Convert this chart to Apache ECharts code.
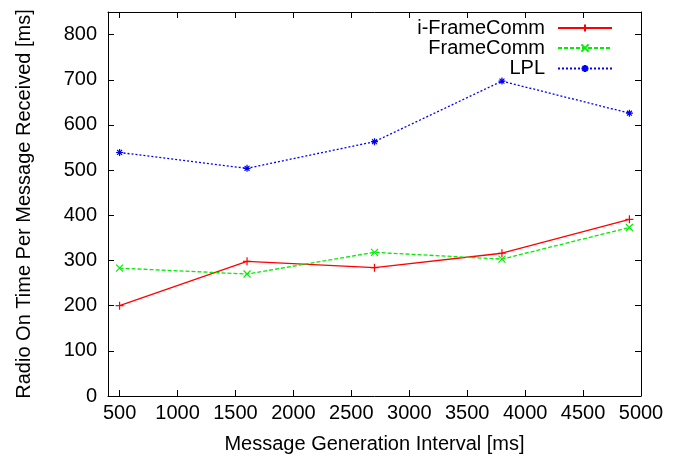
<!DOCTYPE html>
<html>
<head>
<meta charset="utf-8">
<script src="https://cdn.jsdelivr.net/npm/echarts@6/dist/echarts.min.js"></script>
<style>html,body{margin:0;padding:0;background:#fff}#c{width:678px;height:464px}</style>
</head>
<body>
<div id="c"></div>
<script>
const xValues = [500, 1600, 2700, 3800, 4900];
const iFrameComm = [200, 298, 284, 316, 391];
const frameComm = [283, 270, 318, 303, 373];
const lpl = [539, 504, 563, 697, 626];
const seriesNames = ['i-FrameComm', 'FrameComm', 'LPL'];
const xTicks = [500, 1000, 1500, 2000, 2500, 3000, 3500, 4000, 4500, 5000];
const yTicks = [0, 100, 200, 300, 400, 500, 600, 700, 800];
const xTitle = 'Message Generation Interval [ms]';
const yTitle = 'Radio On Time Per Message Received [ms]';

const FONT = 'Liberation Sans, Arial, sans-serif';
const FS = 20;
const pair = (vals) => xValues.map((x, i) => [x, vals[i]]);
const PLUS = 'path://M0,5L10,5M5,0L5,10';
const CROSS = 'path://M0,0L10,10M10,0L0,10';
const STAR = 'path://M0,5L10,5M5,0L5,10M1.5,1.5L8.5,8.5M8.5,1.5L1.5,8.5';

function axisCommon() {
  return {
    axisLine: {show: true, onZero: false, lineStyle: {color: '#000', width: 1}},
    splitLine: {show: false},
  };
}

const chart = echarts.init(document.getElementById('c'), null, {renderer: 'canvas'});
const colors = ['#ff0000', '#00ee00', '#0000ff'];
const legendCenters = [29, 49, 69.5];

const option = {
  animation: false,
  backgroundColor: '#fff',
  textStyle: {fontFamily: FONT},
  grid: {left: 108, right: 37, top: 12, bottom: 68},
  legend: seriesNames.map((n, i) => ({
    data: [n],
    right: 65,
    top: legendCenters[i] - 11,
    padding: 0,
    align: 'right',
    orient: 'vertical',
    itemWidth: 54,
    itemHeight: 9,
    formatter: '{a|{name}}',
    textStyle: {fontSize: FS, color: '#000', fontFamily: FONT,
      rich: {a: {fontSize: FS, color: '#000', fontFamily: FONT, padding: [0, 8, 0, 0]}}},
    selectedMode: false
  })),
  xAxis: [
    Object.assign(axisCommon(), {
      type: 'value', min: 400, max: 5000, position: 'bottom',
      name: xTitle, nameLocation: 'middle', nameGap: 38,
      nameTextStyle: {fontSize: FS, color: '#000', fontFamily: FONT},
      axisTick: {show: true, inside: true, length: 6, customValues: xTicks, lineStyle: {color: '#000'}},
      axisLabel: {show: true, customValues: xTicks, fontSize: FS, color: '#000', margin: 7, fontFamily: FONT,
        formatter: (v) => String(v)}
    }),
    Object.assign(axisCommon(), {
      type: 'value', min: 400, max: 5000, position: 'top',
      axisTick: {show: true, inside: true, length: 6, customValues: xTicks, lineStyle: {color: '#000'}},
      axisLabel: {show: false}
    })
  ],
  yAxis: [
    Object.assign(axisCommon(), {
      type: 'value', min: 0, max: 850, position: 'left',
      name: yTitle, nameLocation: 'middle', nameGap: 74,
      nameTextStyle: {fontSize: FS, color: '#000', fontFamily: FONT},
      axisTick: {show: true, inside: true, length: 6, customValues: yTicks, lineStyle: {color: '#000'}},
      axisLabel: {show: true, customValues: yTicks, fontSize: FS, color: '#000', margin: 11, fontFamily: FONT,
        formatter: (v) => String(v)}
    }),
    Object.assign(axisCommon(), {
      type: 'value', min: 0, max: 850, position: 'right',
      axisTick: {show: true, inside: true, length: 6, customValues: yTicks, lineStyle: {color: '#000'}},
      axisLabel: {show: false}
    })
  ],
  series: [
    {
      name: seriesNames[0], type: 'line', data: pair(iFrameComm),
      symbol: PLUS, symbolSize: 8,
      lineStyle: {color: colors[0], width: 1.3, type: 'solid'},
      itemStyle: {color: colors[0], borderColor: colors[0], borderWidth: 1.2}
    },
    {
      name: seriesNames[1], type: 'line', data: pair(frameComm),
      symbol: CROSS, symbolSize: 7,
      lineStyle: {color: colors[1], width: 1.3, type: [4, 2]},
      itemStyle: {color: colors[1], borderColor: colors[1], borderWidth: 1.2}
    },
    {
      name: seriesNames[2], type: 'line', data: pair(lpl),
      symbol: STAR, symbolSize: 7,
      lineStyle: {color: colors[2], width: 1.3, type: [2, 2]},
      itemStyle: {color: colors[2], borderColor: colors[2], borderWidth: 1.2}
    }
  ]
};
chart.setOption(option);
</script>
</body>
</html>
